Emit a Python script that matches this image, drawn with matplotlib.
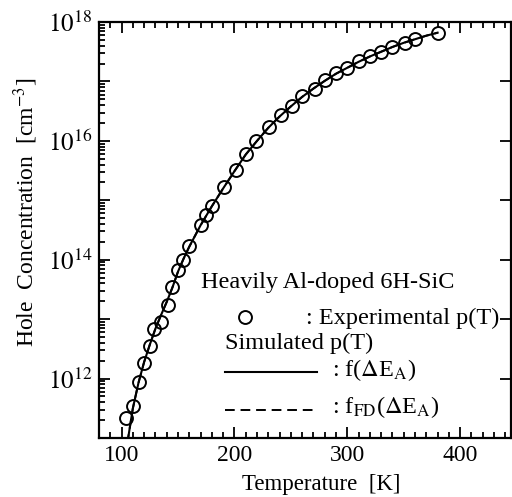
import numpy as np
import matplotlib.pyplot as plt
from matplotlib.lines import Line2D
from matplotlib.ticker import LogLocator, MultipleLocator, FixedLocator, NullFormatter

plt.rcParams['font.family'] = ['Liberation Serif', 'DejaVu Serif']
plt.rcParams['mathtext.fontset'] = 'stix'

# experimental p(T) (circles)
t_exp = [104, 110, 115, 120, 125, 129, 135, 141, 145, 150, 154, 160, 170, 175, 180,
         191, 201, 210, 219, 231, 241, 251, 260, 271, 280, 290, 300, 310, 320, 330,
         340, 351, 360, 380]
logp_exp = [11.33, 11.54, 11.95, 12.26, 12.55, 12.84, 12.96, 13.24, 13.54, 13.83,
            14.00, 14.23, 14.59, 14.75, 14.90, 15.22, 15.51, 15.78, 16.00, 16.24,
            16.43, 16.59, 16.75, 16.88, 17.02, 17.14, 17.22, 17.34, 17.42, 17.50,
            17.58, 17.65, 17.71, 17.82]

# simulated p(T), f(dEA) and fFD(dEA) lie on top of each other
t_sim = [105, 110, 115, 120, 125, 130, 135, 140, 145, 150, 155, 160, 170, 180, 190,
         200, 210, 220, 230, 240, 250, 260, 270, 280, 290, 300, 310, 320, 330, 340,
         350, 360, 370, 380]
logp_f = [10.90, 11.50, 11.93, 12.28, 12.57, 12.84, 13.07, 13.29, 13.53, 13.80,
          14.02, 14.22, 14.58, 14.90, 15.20, 15.49, 15.77, 16.00, 16.22, 16.41,
          16.58, 16.74, 16.88, 17.01, 17.13, 17.23, 17.33, 17.42, 17.50, 17.58,
          17.65, 17.71, 17.77, 17.82]
logp_fd = logp_f

dash = (0, (5, 3))

fig = plt.figure(figsize=(5.12, 4.97), dpi=100)
ax = fig.add_axes([99 / 512, 1 - 438 / 497, 412 / 512, 416 / 497])

ax.plot(t_sim, 10 ** np.array(logp_fd), color='black', lw=1.4, ls=dash)
ax.plot(t_sim, 10 ** np.array(logp_f), color='black', lw=1.5)
ax.plot(t_exp, 10 ** np.array(logp_exp), ls='none', marker='o', ms=9.3,
        mfc='none', mec='black', mew=1.4)

ax.set_yscale('log')
ax.set_xlim(80, 445)
ax.set_ylim(1e11, 1e18)

ax.xaxis.set_major_locator(MultipleLocator(100))
ax.xaxis.set_minor_locator(MultipleLocator(10))
ax.yaxis.set_major_locator(FixedLocator([10.0 ** k for k in range(11, 19)]))
ax.yaxis.set_minor_locator(LogLocator(base=10, subs=np.arange(2, 10), numticks=20))
ax.yaxis.set_minor_formatter(NullFormatter())
ax.set_yticklabels(['' if k % 2 else r'$10^{%d}$' % k for k in range(11, 19)])

ax.tick_params(which='both', direction='in', top=True, right=True, width=1.3,
               colors='black')
ax.tick_params(axis='x', labelsize=17)
ax.tick_params(axis='y', labelsize=18)
ax.tick_params(which='major', length=8, pad=5)
ax.tick_params(which='minor', length=4.5)
ax.tick_params(axis='y', which='minor', right=False)
for s in ax.spines.values():
    s.set_linewidth(1.6)

ax.set_xlabel('Temperature  [K]', fontsize=16.5)
ax.set_ylabel(r'Hole  Concentration  [cm$^{-3}$]', fontsize=17)
ax.xaxis.set_label_coords(0.539, -0.086)
ax.yaxis.set_label_coords(-0.143, 0.543)

fs = 17.5
tr = ax.transAxes
ax.text(0.247, 0.3726, 'Heavily Al-doped 6H-SiC', transform=tr, fontsize=fs, va='center')
ax.add_line(Line2D([0.354], [0.291], transform=tr, marker='o', ms=9.3, mfc='none',
                   mec='black', mew=1.4, ls='none'))
ax.text(0.502, 0.288, ': Experimental p(T)', transform=tr, fontsize=fs, va='center')
ax.text(0.306, 0.228, 'Simulated p(T)', transform=tr, fontsize=fs, va='center')
ax.add_line(Line2D([0.306, 0.529], [0.159, 0.159], transform=tr, color='black', lw=1.5))
ax.text(0.565, 0.163, r': f($\Delta$E$_\mathrm{A}$)', transform=tr, fontsize=fs, va='center')
ax.add_line(Line2D([0.306, 0.529], [0.067, 0.067], transform=tr, color='black', lw=1.4,
                   ls=dash))
ax.text(0.565, 0.075, r': f$_\mathrm{FD}$($\Delta$E$_\mathrm{A}$)', transform=tr,
        fontsize=fs, va='center')

fig.savefig('out.png', dpi=100)
